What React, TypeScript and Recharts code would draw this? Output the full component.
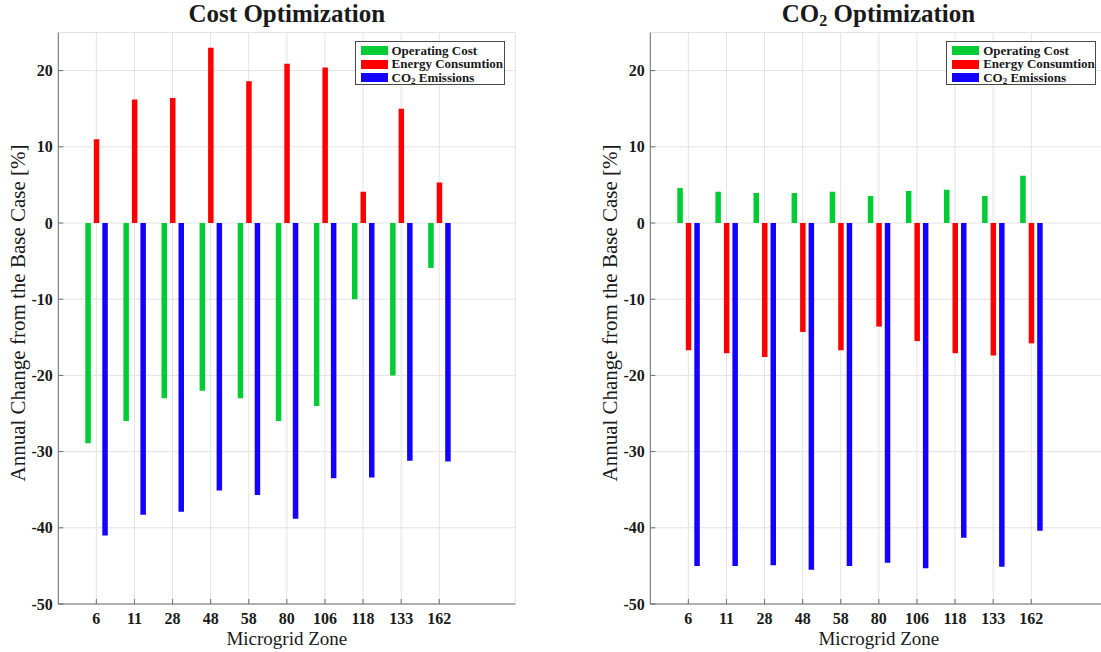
import React from 'react';
import { BarChart, Bar, XAxis, YAxis, CartesianGrid, Legend } from 'recharts';

const zones = ['6', '11', '28', '48', '58', '80', '106', '118', '133', '162'];
const costOpCost = [-28.9, -26, -23, -22, -23, -26, -24, -10, -20, -5.9];
const costEnergy = [11, 16.2, 16.4, 23, 18.6, 20.9, 20.4, 4.1, 15, 5.3];
const costCO2 = [-41, -38.3, -37.9, -35.1, -35.7, -38.8, -33.5, -33.4, -31.2, -31.3];
const co2OpCost = [4.6, 4.1, 3.95, 3.95, 4.1, 3.55, 4.2, 4.35, 3.55, 6.2];
const co2Energy = [-16.7, -17.1, -17.6, -14.3, -16.7, -13.6, -15.5, -17.1, -17.4, -15.8];
const co2CO2 = [-45, -45, -44.9, -45.5, -45, -44.6, -45.3, -41.3, -45.1, -40.4];
const yTicks = [-50, -40, -30, -20, -10, 0, 10, 20];
const yDomain = [-50, 25];

const GREEN = '#00cc33';
const RED = '#ff0000';
const BLUE = '#1400ff';
const AX = '#6e6e6e';
const GRID = '#e3e3e3';
const FONT = 'Liberation Serif';
const TXT = '#1a1a1a';

const CH_W = 560;
const CH_H = 652;
const PLOT_L = 58.3;
const PLOT_R = 515.3;
const PLOT_T = 32.5;
const PLOT_B = 604;
const PLOT_W = PLOT_R - PLOT_L;
const YLAB_Y = 313;

const buildData = (a: number[], b: number[], c: number[]) =>
  zones.map((z, i) => ({ zone: z, op: a[i], en: b[i], co2: c[i] }));

const CSS = `
html body div .recharts-wrapper svg.recharts-surface text,
html body div .recharts-wrapper svg.recharts-surface tspan,
html body div .recharts-wrapper svg text.serif-text {
  font-family: "Liberation Serif", "Times New Roman", serif !important;
}
`;

const BottomTick = (p: any) => (
  <g>
    <line x1={p.x} x2={p.x} y1={p.y} y2={p.y - 5} stroke={AX} strokeWidth={1} />
    <text
      className="serif-text"
      x={p.x}
      y={p.y + 20}
      textAnchor="middle"
      fontFamily={FONT}
      fontWeight="bold"
      fontSize={16}
      fill={TXT}
    >
      {p.payload.value}
    </text>
  </g>
);

const TopTick = (p: any) => (
  <g>
    <line x1={p.x} x2={p.x} y1={p.y} y2={p.y + 5} stroke={AX} strokeWidth={1} />
  </g>
);

const LeftTick = (p: any) => (
  <g>
    <line x1={p.x} x2={p.x + 5} y1={p.y} y2={p.y} stroke={AX} strokeWidth={1} />
    <text
      className="serif-text"
      x={p.x - 5.5}
      y={p.y}
      dy="0.35em"
      textAnchor="end"
      fontFamily={FONT}
      fontWeight="bold"
      fontSize={16}
      fill={TXT}
    >
      {p.payload.value}
    </text>
  </g>
);

const RightTick = (p: any) => (
  <g>
    {p.payload.value === 0 ? (
      <line x1={p.x} x2={p.x - PLOT_W} y1={p.y} y2={p.y} stroke={AX} strokeWidth={1.2} />
    ) : null}
    <line x1={p.x} x2={p.x - 5} y1={p.y} y2={p.y} stroke={AX} strokeWidth={1} />
  </g>
);

const YLabel = () => (
  <text
    className="serif-text"
    x={18}
    y={YLAB_Y}
    transform={`rotate(-90, 18, ${YLAB_Y})`}
    textAnchor="middle"
    dominantBaseline="central"
    fontFamily={FONT}
    fontSize={21}
    fill={TXT}
  >
    Annual Change from the Base Case [%]
  </text>
);

const XLabel = () => (
  <text
    className="serif-text"
    x={(PLOT_L + PLOT_R) / 2}
    y={645}
    textAnchor="middle"
    fontFamily={FONT}
    fontSize={19}
    fill={TXT}
  >
    Microgrid Zone
  </text>
);

const legendItems = [
  { key: 'op', color: GREEN, label: <>Operating Cost</> },
  { key: 'en', color: RED, label: <>Energy Consumtion</> },
  {
    key: 'co2',
    color: BLUE,
    label: (
      <>
        CO<sub style={{ fontSize: 9, verticalAlign: '-2px', lineHeight: 0 }}>2</sub> Emissions
      </>
    ),
  },
];

const LegendBox = () => (
  <div
    style={{
      boxSizing: 'border-box',
      width: 150,
      height: 44,
      border: '1px solid #4a4a4a',
      background: '#fff',
      paddingTop: 1.5,
      paddingLeft: 5,
      fontFamily: FONT,
      fontWeight: 'bold',
      fontSize: 13,
      color: TXT,
    }}
  >
    {legendItems.map((it) => (
      <div
        key={it.key}
        style={{ display: 'flex', alignItems: 'center', height: 13.7, lineHeight: '13.7px', whiteSpace: 'nowrap' }}
      >
        <span style={{ display: 'inline-block', width: 27, height: 9, background: it.color, marginRight: 4 }} />
        <span>{it.label}</span>
      </div>
    ))}
  </div>
);

const Panel = ({ data, left }: { data: any[]; left: number }) => (
  <div style={{ position: 'absolute', left, top: 0, width: CH_W, height: CH_H, fontFamily: FONT }}>
    <BarChart
      width={CH_W}
      height={CH_H}
      data={data}
      margin={{ top: PLOT_T, right: CH_W - PLOT_R, bottom: 0, left: 0 }}
      barGap={3}
      style={{ fontFamily: FONT }}
    >
      <CartesianGrid stroke={GRID} strokeWidth={1} />
      <XAxis
        dataKey="zone"
        height={CH_H - PLOT_B}
        padding={{ left: 19, right: 57 }}
        interval={0}
        tickSize={0}
        tickMargin={0}
        tickLine={false}
        axisLine={{ stroke: AX, strokeWidth: 1 }}
        tick={<BottomTick />}
        label={<XLabel />}
      />
      <XAxis
        xAxisId="top"
        orientation="top"
        dataKey="zone"
        height={0}
        padding={{ left: 19, right: 57 }}
        interval={0}
        tickSize={0}
        tickMargin={0}
        tickLine={false}
        axisLine={{ stroke: AX, strokeWidth: 1 }}
        tick={<TopTick />}
      />
      <YAxis
        width={PLOT_L}
        domain={yDomain}
        ticks={yTicks}
        allowDataOverflow
        interval={0}
        tickSize={0}
        tickMargin={0}
        tickLine={false}
        axisLine={{ stroke: AX, strokeWidth: 1 }}
        tick={<LeftTick />}
        label={<YLabel />}
      />
      <YAxis
        yAxisId="r"
        orientation="right"
        width={0}
        domain={yDomain}
        ticks={yTicks}
        allowDataOverflow
        interval={0}
        tickSize={0}
        tickMargin={0}
        tickLine={false}
        axisLine={{ stroke: AX, strokeWidth: 1 }}
        tick={<RightTick />}
      />
      <Legend
        layout="vertical"
        align="center"
        verticalAlign="middle"
        content={<LegendBox />}
        wrapperStyle={{ position: 'absolute', left: 354.5, top: 41, width: 150, height: 44 }}
      />
      <Bar dataKey="op" name="Operating Cost" fill={GREEN} barSize={5.5} isAnimationActive={false} />
      <Bar dataKey="en" name="Energy Consumtion" fill={RED} barSize={5.5} isAnimationActive={false} />
      <Bar dataKey="co2" name="CO2 Emissions" fill={BLUE} barSize={5.5} isAnimationActive={false} />
    </BarChart>
  </div>
);

const RIGHT_LEFT = 650 - PLOT_L;

export default function App() {
  const costData = buildData(costOpCost, costEnergy, costCO2);
  const co2Data = buildData(co2OpCost, co2Energy, co2CO2);
  return (
    <div
      style={{
        position: 'absolute',
        left: 0,
        top: 0,
        width: 1101,
        height: 652,
        overflow: 'hidden',
        background: '#fff',
        fontFamily: FONT,
      }}
    >
      <style>{CSS}</style>
      <Panel data={costData} left={0} />
      <Panel data={co2Data} left={RIGHT_LEFT} />
      <svg width={1101} height={32} style={{ position: 'absolute', left: 0, top: 0 }}>
        <text
          x={(PLOT_L + PLOT_R) / 2}
          y={22}
          textAnchor="middle"
          fontFamily={FONT}
          fontWeight="bold"
          fontSize={25}
          fill={TXT}
        >
          Cost Optimization
        </text>
        <text
          x={RIGHT_LEFT + (PLOT_L + PLOT_R) / 2}
          y={22}
          textAnchor="middle"
          fontFamily={FONT}
          fontWeight="bold"
          fontSize={25}
          fill={TXT}
        >
          <tspan>CO</tspan>
          <tspan dy={4} fontSize={16}>
            2
          </tspan>
          <tspan dy={-4}> Optimization</tspan>
        </text>
      </svg>
    </div>
  );
}
